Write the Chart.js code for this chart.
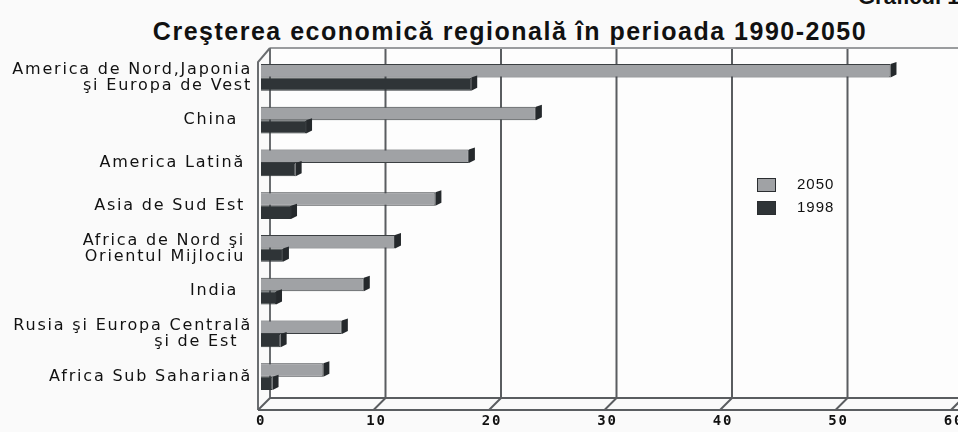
<!DOCTYPE html>
<html><head><meta charset="UTF-8">
<title>Creşterea economică regională</title>
<script src="https://cdn.jsdelivr.net/npm/chart.js"></script>
<style>
  html,body{margin:0;padding:0;background:#fafafa;overflow:hidden}
  #wrap{position:relative;width:958px;height:432px}
  #top{position:absolute;left:858px;top:-16px;font:bold 22px "Liberation Sans",Arial,sans-serif;color:#111;white-space:nowrap}
  #title{position:absolute;left:0;width:1020px;top:17px;text-align:center;font:bold 25px "Liberation Sans",Arial,sans-serif;letter-spacing:1.5px;color:#111}
  canvas{position:absolute;left:0;top:0}
</style>
</head><body>
<div id="wrap">
<div id="top">Graficul 1</div>
<div id="title">Creşterea economică regională în perioada 1990-2050</div>
<canvas id="chart" width="958" height="432"></canvas>
</div>
<script>
  const regions = [
    ["America de Nord,Japonia", "şi Europa de Vest"],
    "China  ",
    "America Latină ",
    "Asia de Sud Est ",
    ["Africa de Nord şi ", "Orientul Mijlociu "],
    "India  ",
    ["Rusia şi Europa Centrală", "şi de Est  "],
    "Africa Sub Sahariană"
  ];
  const years = ["2050", "1998"];
  const values2050 = [54.5, 23.8, 18.0, 15.1, 11.6, 8.9, 7.0, 5.4];
  const values1998 = [18.2, 3.9, 3.0, 2.6, 1.9, 1.3, 1.7, 1.0];
  const xTicks = [0, 10, 20, 30, 40, 50, 60];

  const depth = 12;

  const wall = {
    id: "wall",
    beforeDraw(chart) {
      chart.ctx.letterSpacing = "1.8px";
    },
    beforeDatasetsDraw(chart) {
      const ctx = chart.ctx, ca = chart.chartArea, xs = chart.scales.x;
      ctx.letterSpacing = "0px";
      const x0 = xs.getPixelForValue(0), x60 = xs.getPixelForValue(60);
      const f = -3, b = f + depth;
      const top = ca.top - 8, bot = ca.bottom;
      ctx.save();
      ctx.fillStyle = "#fdfdfd";
      ctx.fillRect(x0 + b, top, x60 - x0 + 10, bot - top);
      ctx.strokeStyle = "#5a5d60";
      ctx.lineWidth = 2;
      xTicks.forEach(v => {
        if (v === 0) return;
        const px = xs.getPixelForValue(v);
        ctx.beginPath(); ctx.moveTo(px + b, top); ctx.lineTo(px + b, bot); ctx.stroke();
      });
      ctx.strokeStyle = "#9a9c9e";
      ctx.beginPath(); ctx.moveTo(x0 + b, top); ctx.lineTo(958, top); ctx.stroke();
      ctx.strokeStyle = "#6a6d70";
      ctx.beginPath(); ctx.moveTo(x0 + b, top); ctx.lineTo(x0 + b, bot); ctx.stroke();
      ctx.beginPath(); ctx.moveTo(x0 + b, top); ctx.lineTo(x0 + f, top + depth + 2); ctx.lineTo(x0 + f, bot + depth); ctx.stroke();
      ctx.strokeStyle = "#5a5d60";
      ctx.beginPath(); ctx.moveTo(x0 + b, bot); ctx.lineTo(958, bot); ctx.stroke();
      ctx.beginPath(); ctx.moveTo(x0 + f, bot + depth); ctx.lineTo(958, bot + depth); ctx.stroke();
      xTicks.forEach(v => {
        const px = xs.getPixelForValue(v);
        ctx.beginPath(); ctx.moveTo(px + f, bot + depth); ctx.lineTo(px + b, bot); ctx.stroke();
      });
      ctx.restore();
    },
    afterDatasetsDraw(chart) {
      const ctx = chart.ctx;
      ctx.save();
      chart.data.datasets.forEach((ds, i) => {
        chart.getDatasetMeta(i).data.forEach(bar => {
          const p = bar.getProps(["x", "y", "height"], true);
          const t = p.y - p.height / 2, bt = p.y + p.height / 2;
          ctx.fillStyle = "#25292c";
          ctx.beginPath();
          ctx.moveTo(p.x, t); ctx.lineTo(p.x + 6, t - 2); ctx.lineTo(p.x + 6, bt - 3); ctx.lineTo(p.x, bt);
          ctx.closePath(); ctx.fill();
        });
      });
      ctx.restore();
    },
    afterDraw(chart) {
      const ctx = chart.ctx;
      ctx.save();
      ctx.font = "15px 'Liberation Sans', Arial, sans-serif";
      ctx.letterSpacing = "1px";
      ctx.textBaseline = "middle";
      chart.data.datasets.forEach((ds, i) => {
        const y = 178 + i * 23;
        ctx.fillStyle = ds.backgroundColor;
        ctx.strokeStyle = "#2a2d30";
        ctx.lineWidth = 1;
        ctx.fillRect(757, y, 19, 14);
        ctx.strokeRect(757.5, y + 0.5, 18, 13);
        ctx.fillStyle = "#111";
        ctx.fillText(ds.label, 797, y + 7);
      });
      ctx.restore();
      ctx.letterSpacing = "0px";
    }
  };

  new Chart(document.getElementById("chart"), {
    type: "bar",
    data: {
      labels: regions,
      datasets: [
        { label: years[0], data: values2050, backgroundColor: "#a0a2a5", borderColor: "#3b3f42", borderWidth: 1, borderSkipped: "left" },
        { label: years[1], data: values1998, backgroundColor: "#2f3437", borderColor: "#2f3437", borderWidth: 1, borderSkipped: "left" }
      ]
    },
    options: {
      indexAxis: "y",
      responsive: false,
      animation: false,
      layout: { padding: { top: 56, right: 4, left: 0, bottom: 0 } },
      datasets: { bar: { categoryPercentage: 0.62, barPercentage: 1 } },
      plugins: { legend: { display: false }, tooltip: { enabled: false } },
      scales: {
        x: {
          min: 0, max: 60,
          afterBuildTicks(s) { s.ticks = xTicks.map(v => ({ value: v })); },
          grid: { display: false, drawTicks: false },
          border: { display: false },
          afterFit(s) { s.height = 34; s.paddingLeft = 0; s.paddingRight = 0; },
          ticks: { padding: 15, color: "#111", font: { family: "'DejaVu Sans Mono', monospace", size: 14, weight: "bold" } }
        },
        y: {
          grid: { display: false, drawTicks: false },
          border: { display: false },
          afterFit(s) { s.width = 261; },
          ticks: { padding: 9, color: "#111", font: { family: "'DejaVu Sans', sans-serif", size: 16, lineHeight: 1.0 } }
        }
      }
    },
    plugins: [wall]
  });
</script>
</body></html>
